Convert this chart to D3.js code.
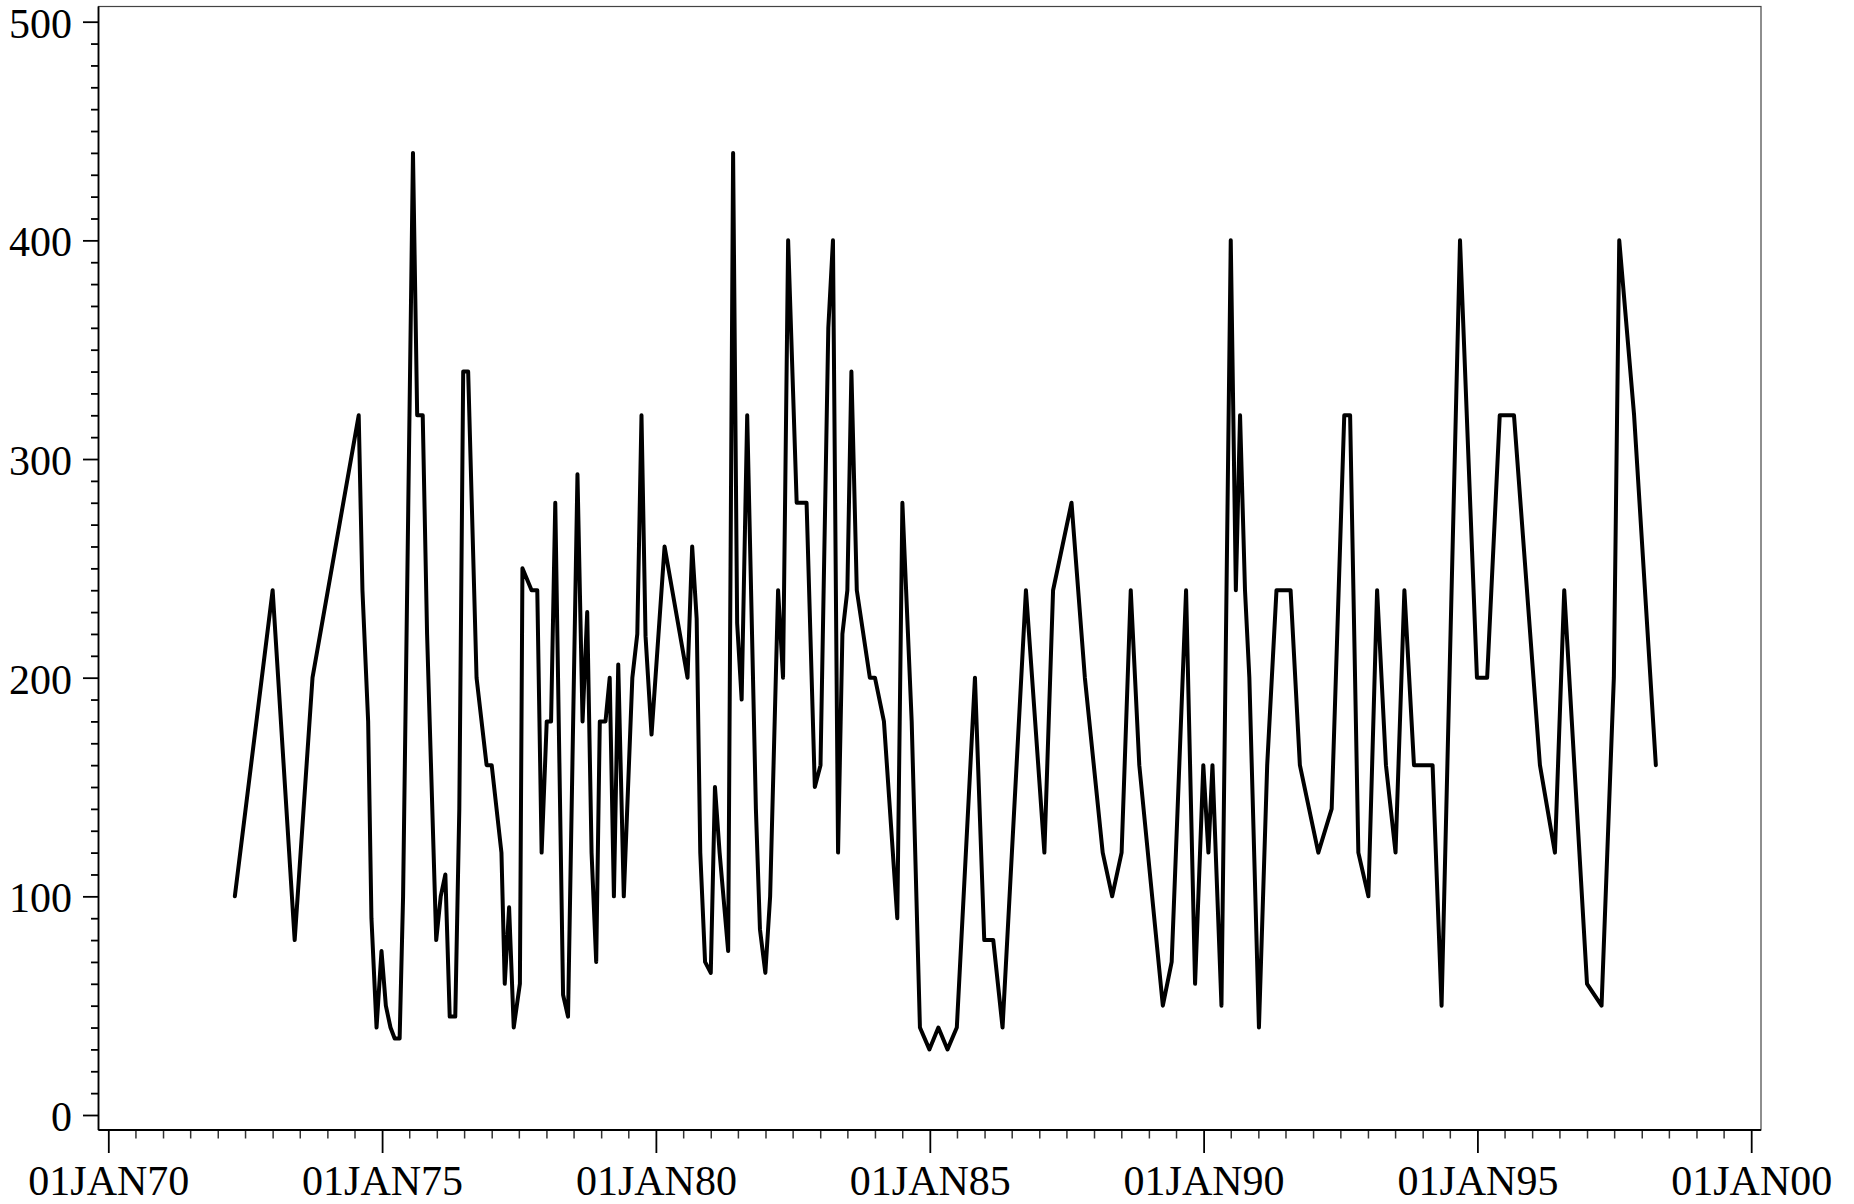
<!DOCTYPE html>
<html>
<head>
<meta charset="utf-8">
<script src="https://cdn.jsdelivr.net/npm/d3@7"></script>
<style>
  html, body { margin: 0; padding: 0; background: #fff; }
  svg { display: block; }
  text { font-family: "Liberation Serif", "Times New Roman", serif; fill: #000; }
</style>
</head>
<body>
<script>
// ---- data ----
const dates = [
"1972-04-24","1973-01-01","1973-05-28","1973-09-24","1974-07-29","1974-08-23","1974-09-30","1974-10-22","1974-11-25","1974-12-28",
"1975-01-26","1975-02-26","1975-03-26","1975-04-28","1975-05-21","1975-07-26","1975-08-23","1975-09-29","1975-10-28","1975-12-28",
"1976-01-27","1976-02-27","1976-03-27","1976-05-03","1976-05-30","1976-06-25","1976-07-28","1976-09-22","1976-11-28","1977-01-01",
"1977-03-07","1977-03-29","1977-04-27","1977-05-28","1977-07-08","1977-07-25","1977-09-24","1977-11-01","1977-11-30","1978-01-03",
"1978-02-01","1978-03-01","1978-04-22","1978-05-25","1978-07-27","1978-08-30","1978-09-30","1978-10-29","1978-11-29","1978-12-23",
"1979-01-30","1979-02-27","1979-03-27","1979-04-25","1979-06-01","1979-07-28","1979-08-30","1979-09-27","1979-10-24","1979-12-03",
"1980-02-28","1980-07-30","1980-08-30","1980-09-29","1980-10-23","1980-11-24","1981-01-01","1981-01-29","1981-03-01","1981-04-27",
"1981-05-30","1981-06-26","1981-07-26","1981-09-01","1981-10-29","1981-11-25","1981-12-31","1982-02-01","1982-03-26","1982-04-28",
"1982-06-01","1982-07-28","1982-10-02","1982-11-26","1983-01-03","1983-02-24","1983-03-27","1983-04-30","1983-05-29","1983-07-01",
"1983-07-28","1983-09-02","1983-11-28","1984-01-01","1984-03-01","1984-05-29","1984-07-02","1984-09-02","1984-10-27","1984-12-29",
"1985-02-27","1985-04-29","1985-06-30","1985-10-29","1985-12-30","1986-02-28","1986-05-01","1986-10-04","1987-02-04","1987-04-03",
"1987-08-04","1987-11-01","1988-02-28","1988-05-01","1988-07-03","1988-09-02","1988-10-29","1989-04-04","1989-06-02","1989-09-06",
"1989-11-05","1989-12-30","1990-02-02","1990-03-01","1990-04-30","1990-07-01","1990-08-04","1990-09-01","1990-10-04","1990-11-02",
"1991-01-05","1991-03-01","1991-05-02","1991-08-04","1991-10-05","1992-02-05","1992-05-04","1992-07-27","1992-09-04","1992-10-29",
"1993-01-04","1993-03-03","1993-05-01","1993-07-04","1993-09-01","1993-11-04","1994-03-08","1994-05-07","1994-09-07","1994-12-29",
"1995-03-07","1995-05-30","1995-09-02","1996-02-22","1996-06-01","1996-08-02","1997-01-01","1997-04-08","1997-06-29","1997-08-04",
"1997-11-11","1998-04-05"
];
const values = [
100,240,80,200,320,240,180,90,40,75,
50,40,35,35,100,440,320,320,220,80,
100,110,45,45,140,340,340,200,160,160,
120,60,95,40,60,250,240,240,120,180,
180,280,55,45,293,180,230,120,70,180,
180,200,100,206,100,200,220,320,219,174,
260,200,260,227,120,70,65,150,120,75,
440,225,190,320,140,85,65,100,240,200,
400,280,280,150,160,360,400,120,220,240,
340,240,200,200,180,90,280,180,40,30,
40,30,40,200,80,80,40,240,120,240,
280,200,120,100,120,240,160,50,70,240,
60,160,120,160,50,400,240,320,240,200,
40,160,240,240,160,120,140,320,320,120,
100,240,160,120,240,160,160,50,400,200,
200,320,320,160,120,240,60,50,200,400,
320,160
];
const yTicks = [0, 100, 200, 300, 400, 500];
const yMinorStep = 10;
const xTickDates = ["1970-01-01","1975-01-01","1980-01-01","1985-01-01","1990-01-01","1995-01-01","2000-01-01"];
const xTickLabels = ["01JAN70","01JAN75","01JAN80","01JAN85","01JAN90","01JAN95","01JAN00"];

// ---- layout ----
const W = 1854, H = 1204;
const frame = { left: 98.5, right: 1761, top: 6.5, bottom: 1130 };

const parse = d3.utcParse("%Y-%m-%d");
const data = dates.map((d, i) => ({ date: parse(d), value: values[i] }));
const majorX = xTickDates.map(parse);

const x = d3.scaleUtc()
  .domain([majorX[0], majorX[majorX.length - 1]])
  .range([108.3, 1751.2]);
const y = d3.scaleLinear()
  .domain([0, 500])
  .range([1115, 21.7]);

const svg = d3.select("body").append("svg")
  .attr("width", W).attr("height", H)
  .attr("viewBox", `0 0 ${W} ${H}`);

// frame
svg.append("rect")
  .attr("x", frame.left).attr("y", frame.top)
  .attr("width", frame.right - frame.left)
  .attr("height", frame.bottom - frame.top)
  .attr("fill", "none").attr("stroke", "#444").attr("stroke-width", 1.2);

// Y axis
const yMinor = d3.range(0, 501, yMinorStep).filter(v => v % 100 !== 0);
const gyMinor = svg.append("g").attr("transform", `translate(${frame.left},0)`)
  .call(d3.axisLeft(y).tickValues(yMinor).tickSize(7.5).tickFormat(""));
const gy = svg.append("g").attr("transform", `translate(${frame.left},0)`)
  .call(d3.axisLeft(y).tickValues(yTicks).tickSize(15.5).tickPadding(11));
[gyMinor, gy].forEach(g => {
  g.select(".domain").remove();
  g.selectAll(".tick line").attr("stroke", "#000").attr("stroke-width", 1.8);
});
gy.selectAll(".tick text")
  .attr("font-size", 42)
  .attr("font-family", "Liberation Serif")
  .attr("dy", "0.37em");

// X axis
const xMinor = d3.utcMonth.every(6).range(majorX[0], majorX[majorX.length - 1])
  .filter(d => !(d.getUTCMonth() === 0 && d.getUTCFullYear() % 5 === 0));
const gxMinor = svg.append("g").attr("transform", `translate(0,${frame.bottom})`)
  .call(d3.axisBottom(x).tickValues(xMinor).tickSize(8.5).tickFormat(""));
const gx = svg.append("g").attr("transform", `translate(0,${frame.bottom})`)
  .call(d3.axisBottom(x).tickValues(majorX).tickSize(23)
    .tickFormat((d, i) => xTickLabels[i]));
[gxMinor, gx].forEach(g => {
  g.select(".domain").remove();
  g.selectAll(".tick line").attr("stroke", "#000").attr("stroke-width", 1.8);
});
gxMinor.selectAll(".tick line").attr("stroke", "#333").attr("stroke-width", 1.5);
gx.selectAll(".tick text")
  .attr("font-size", 42)
  .attr("font-family", "Liberation Serif")
  .attr("y", 64.5)
  .attr("dy", null);

// axis lines (left and bottom)
svg.append("line")
  .attr("x1", frame.left).attr("x2", frame.left)
  .attr("y1", frame.top).attr("y2", frame.bottom)
  .attr("stroke", "#000").attr("stroke-width", 1.8);
svg.append("line")
  .attr("x1", frame.left).attr("x2", frame.right)
  .attr("y1", frame.bottom).attr("y2", frame.bottom)
  .attr("stroke", "#000").attr("stroke-width", 1.8);

// data line
const line = d3.line().x(d => x(d.date)).y(d => y(d.value));
svg.append("path")
  .datum(data)
  .attr("d", line)
  .attr("fill", "none")
  .attr("stroke", "#000")
  .attr("stroke-width", 4)
  .attr("stroke-linejoin", "round")
  .attr("stroke-linecap", "round");
</script>
</body>
</html>
